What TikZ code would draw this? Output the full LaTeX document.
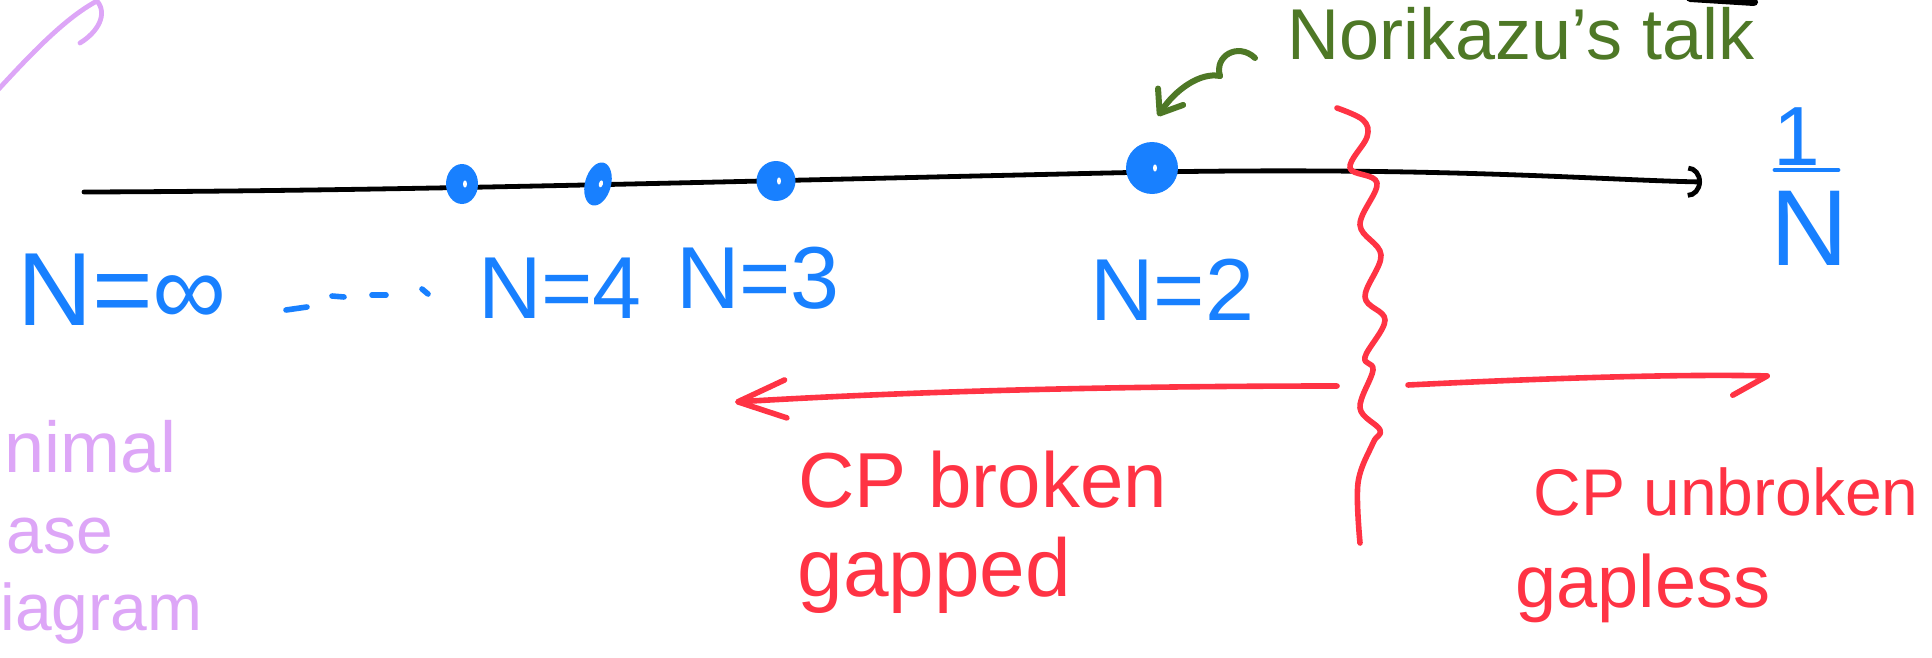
\documentclass[tikz,border=0pt]{standalone}
\usepackage{fontspec}
\setmainfont{Liberation Sans}
\usepackage{tikz}
\usetikzlibrary{arrows.meta,shapes.geometric}
\definecolor{penblue}{RGB}{24,128,255}
\definecolor{penred}{RGB}{255,51,68}
\definecolor{pengreen}{RGB}{78,120,38}
\definecolor{penlilac}{RGB}{221,166,247}

\begin{document}
\begin{tikzpicture}[x=0.5pt, y=-0.5pt,
  ink/.style={line width=2.8pt, line cap=round, line join=round},
  dot/.style={ellipse, fill=penblue, inner sep=0pt,
    path picture={\fill[white] ([xshift=1.5pt]path picture bounding box.center) ellipse (1pt and 1.8pt);}},
  nlab/.style={text=penblue, inner sep=0pt, anchor=base, font=\fontsize{44}{44}\selectfont},
  redlab/.style={text=penred, inner sep=0pt, anchor=base west},
  lilac/.style={text=penlilac, inner sep=0pt, anchor=base west, font=\fontsize{33}{33}\selectfont},
  arrow/.style={ink, penred, -{Straight Barb[length=24pt, width=19pt, round]}}
]
\useasboundingbox (0,0) rectangle (1932,658);

\draw[ink, penlilac, line width=2.4pt] (-4,92) .. controls (30,55) and (65,18) .. (97,1) .. controls (108,14) and (98,32) .. (80,43);
\draw[line width=4pt, line cap=round] (1690,-2) -- (1754,2);

\coordinate (axstart) at (84,192);
\coordinate (axend) at (1702,182);
\draw[ink, line width=2.4pt, -{Arc Barb[length=7pt, width=16pt]}] (axstart) .. controls (400,191) and (700,182) .. (1152,172) .. controls (1450,167) and (1600,180) .. (axend);

\foreach \nm/\px/\py/\w/\h/\r in {five/462/184/16/20/0, four/598/184/13/22/-15, three/776/181/19.5/20/0, two/1152/168/26/26/0} {
  \node[dot, minimum width=\w*1pt, minimum height=\h*1pt, rotate=\r] (d\nm) at (\px,\py) {};
}

\node[nlab, font=\fontsize{52}{52}\selectfont] (ninf) at (122,325) {N=∞};
\foreach \xa/\ya/\xb/\yb in {286/310/307/307, 332/296/344/297, 372/295/386/295, 422/289/428/294} {
  \draw[ink, penblue] (\xa,\ya) -- (\xb,\yb);
}
\node[nlab] (nfour) at (560,318) {N=4};
\node[nlab] (nthree) at (758,308) {N=3};
\node[nlab] (ntwo) at (1172,320) {N=2};

\node[text=penblue, inner sep=0pt, anchor=base, font=\fontsize{42}{42}\selectfont] (one) at (1797,165) {1};
\node[text=penblue, inner sep=0pt, anchor=base, font=\fontsize{54}{54}\selectfont] (enn) at (1809,265) {N};
\draw[ink, penblue, line width=2.4pt] (1775,170) -- (1838,170);

\node[text=pengreen, inner sep=0pt, anchor=base west, font=\fontsize{36}{36}\selectfont] (talk) at (1287,60) {Norikazu's talk};
\coordinate (tail) at (1255,58);
\coordinate (knot) at (1220,76);
\coordinate (tip) at (1158,116);
\draw[ink, pengreen, line width=3pt] (tail) .. controls (1238,42) and (1214,56) .. (knot);
\draw[ink, pengreen, line width=3pt, -{Straight Barb[length=10pt, width=15pt, round]}] (knot) .. controls (1200,72) and (1175,90) .. (tip);

\draw[ink, penred] plot[smooth, tension=0.6] coordinates {(1337,108) (1363,120) (1367,137) (1350,168) (1377,183) (1360,225) (1381,255) (1365,297) (1385,320) (1365,357) (1373,370) (1360,408) (1380,430) (1373,443) (1358,483) (1360,543)};

\coordinate (lstart) at (1337,386);
\coordinate (lend) at (735,402);
\coordinate (rstart) at (1408,385);
\coordinate (rend) at (1770,376);
\draw[arrow] (lstart) .. controls (1100,386) and (900,392) .. (lend);
\draw[ink, penred, -{Straight Barb[harpoon, swap, length=17pt, width=20pt, round]}] (rstart) .. controls (1550,378) and (1680,374) .. (rend);

\node[redlab, font=\fontsize{39}{39}\selectfont] (cpb) at (798,507) {CP broken};
\node[redlab, font=\fontsize{41}{41}\selectfont] (gapped) at (797,596) {gapped};
\node[redlab, font=\fontsize{33}{33}\selectfont] (cpu) at (1533,515) {CP unbroken};
\node[redlab, font=\fontsize{37}{37}\selectfont] (gapless) at (1515,607) {gapless};

\node[lilac, font=\fontsize{36}{36}\selectfont] (nimal) at (4,472) {nimal};
\node[lilac] (ase) at (6,553) {ase};
\node[lilac] (iagram) at (0,630) {iagram};
\end{tikzpicture}
\end{document}
